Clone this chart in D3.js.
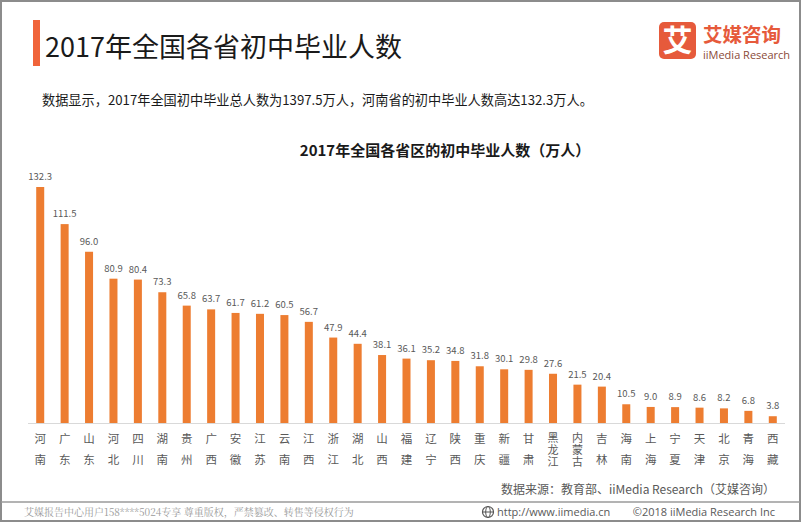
<!DOCTYPE html>
<html><head><meta charset="utf-8">
<script src="https://cdn.jsdelivr.net/npm/d3@7/dist/d3.min.js"></script>
<style>
html,body{margin:0;padding:0;background:#fff;}
svg{display:block;font-family:"Noto Sans CJK SC","Noto Sans",sans-serif;}
</style></head>
<body>
<svg id="c" width="802" height="522"></svg>
<script>
const provinces = ["河南","广东","山东","河北","四川","湖南","贵州","广西","安徽","江苏","云南","江西","浙江","湖北","山西","福建","辽宁","陕西","重庆","新疆","甘肃","黑龙江","内蒙古","吉林","海南","上海","宁夏","天津","北京","青海","西藏"];
const graduates = [132.3,111.5,96.0,80.9,80.4,73.3,65.8,63.7,61.7,61.2,60.5,56.7,47.9,44.4,38.1,36.1,35.2,34.8,31.8,30.1,29.8,27.6,21.5,20.4,10.5,9.0,8.9,8.6,8.2,6.8,3.8];
const pageTitle = "2017年全国各省初中毕业人数";
const summary = "数据显示，2017年全国初中毕业总人数为1397.5万人，河南省的初中毕业人数高达132.3万人。";
const chartTitle = "2017年全国各省区的初中毕业人数（万人）";
const sourceText = "数据来源：教育部、iiMedia Research（艾媒咨询）";
const footerLeft = "艾媒报告中心用户158****5024专享 尊重版权，严禁篡改、转售等侵权行为";
const footerUrl = "http://www.iimedia.cn";
const footerCopy = "©2018 iiMedia Research Inc";

const svg = d3.select("#c");
const W = 802, H = 522;

// outer border
svg.append("rect").attr("x",1).attr("y",1).attr("width",W-3).attr("height",H-2)
  .attr("fill","none").attr("stroke","#8c8c8c").attr("stroke-width",2);
// footer separator
svg.append("line").attr("x1",1).attr("x2",W-2).attr("y1",502).attr("y2",502)
  .attr("stroke","#9a9a9a").attr("stroke-width",1.5);

// title
svg.append("rect").attr("x",33).attr("y",20).attr("width",7).attr("height",46).attr("fill","#F0643A");
svg.append("text").attr("x",45).attr("y",57).attr("font-size",27).attr("fill","#1a1a1a").text(pageTitle);

// logo
svg.append("rect").attr("x",659).attr("y",22).attr("width",37).attr("height",37).attr("rx",5).attr("fill","#E65A3B");
svg.append("text").attr("x",677.5).attr("y",51).attr("text-anchor","middle").attr("font-size",30).attr("font-weight","bold").attr("fill","#fff").text("艾");
svg.append("text").attr("x",703).attr("y",42).attr("font-size",19.5).attr("font-weight","bold").attr("fill","#E65A3B").text("艾媒咨询");
svg.append("text").attr("x",703).attr("y",59).attr("font-size",11).attr("fill","#8a4a38").attr("font-family","'Open Sans',sans-serif").text("iiMedia Research");

// summary
svg.append("text").attr("x",42).attr("y",105).attr("font-size",13.2).attr("fill","#1a1a1a").text(summary);
// chart title
svg.append("text").attr("x",445).attr("y",156).attr("text-anchor","middle").attr("font-size",15).attr("font-weight","bold").attr("fill","#1a1a1a").text(chartTitle);

// scales
const x = d3.scaleBand().domain(provinces).range([28,785]).paddingInner(0.672).paddingOuter(0.336);
const y = d3.scaleLinear().domain([0,132.3]).range([423,187]);

const g = svg.append("g");
g.selectAll("rect.bar").data(provinces).join("rect").attr("class","bar")
  .attr("x",d=>x(d)).attr("width",x.bandwidth())
  .attr("y",(d,i)=>y(graduates[i])).attr("height",(d,i)=>y(0)-y(graduates[i]))
  .attr("fill","#ED7D31");

g.selectAll("text.val").data(provinces).join("text").attr("class","val")
  .attr("x",d=>x(d)+x.bandwidth()/2).attr("y",(d,i)=>y(graduates[i])-7)
  .attr("text-anchor","middle").attr("font-size",9.5).attr("fill","#595959")
  .text((d,i)=>graduates[i].toFixed(1));

// axis baseline
const axis = d3.axisBottom(x).tickSize(0).tickFormat("");
const ag = svg.append("g").attr("transform","translate(0,423.5)").call(axis);
ag.select(".domain").attr("stroke","#d9d9d9").attr("d","M28,0H785");

// vertical category labels (upright vertical text)
svg.append("g").selectAll("text.cat").data(provinces).join("text").attr("class","cat")
  .attr("x",d=>x(d)+x.bandwidth()/2)
  .attr("y",d=>Array.from(d).length>2 ? 432 : 432.5)
  .style("writing-mode","vertical-rl")
  .style("text-orientation","upright")
  .attr("font-size",d=>Array.from(d).length>2 ? 11 : 11.5)
  .attr("letter-spacing",d=>Array.from(d).length>2 ? 1 : 10)
  .attr("fill","#595959")
  .text(d=>d);

// source
svg.append("text").attr("x",775).attr("y",494).attr("text-anchor","end").attr("font-size",12).attr("fill","#595959").text(sourceText);

// footer
svg.append("text").attr("x",24).attr("y",516).attr("font-size",10).attr("fill","#9a9a9a")
  .attr("font-family","'Noto Serif CJK SC','AR PL UMing CN',serif").text(footerLeft);
const gl = svg.append("g").attr("transform","translate(488,512)");
gl.append("circle").attr("r",5.5).attr("fill","none").attr("stroke","#555").attr("stroke-width",1.2);
gl.append("ellipse").attr("rx",2.3).attr("ry",5.5).attr("fill","none").attr("stroke","#555").attr("stroke-width",1);
gl.append("line").attr("x1",-5.5).attr("x2",5.5).attr("stroke","#555").attr("stroke-width",1);
svg.append("text").attr("x",497).attr("y",516).attr("font-size",11).attr("fill","#595959").attr("font-family","'Open Sans',sans-serif").text(footerUrl);
svg.append("text").attr("x",775).attr("y",516).attr("text-anchor","end").attr("font-size",11).attr("fill","#595959").attr("font-family","'Open Sans',sans-serif").text(footerCopy);
</script>
</body></html>
